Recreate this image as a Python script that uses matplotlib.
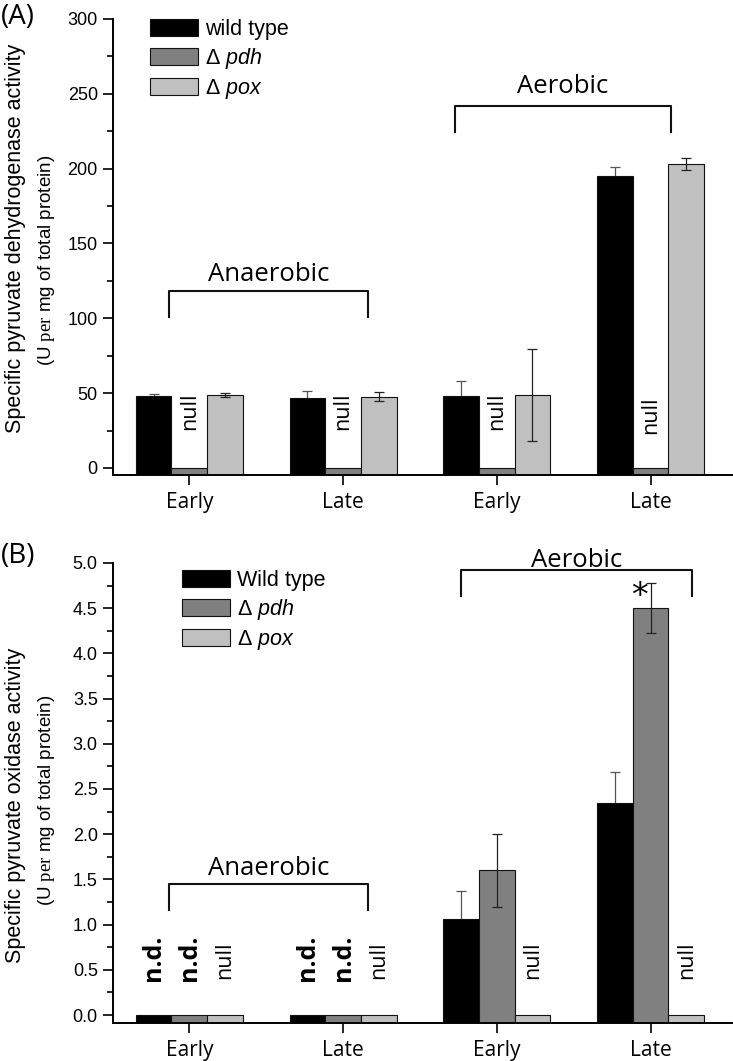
import numpy as np
import matplotlib.pyplot as plt
from matplotlib.ticker import MultipleLocator

plt.rcParams['font.family'] = ['Liberation Sans', 'DejaVu Sans']
plt.rcParams['mathtext.fontset'] = 'custom'
plt.rcParams['mathtext.rm'] = 'Liberation Serif'
plt.rcParams['mathtext.it'] = 'Liberation Sans:italic'

# data
groups = ['Early', 'Late', 'Early', 'Late']
series = ['wild type', 'Δ $\\mathit{pdh}$', 'Δ $\\mathit{pox}$']
series_b = ['Wild type', 'Δ $\\mathit{pdh}$', 'Δ $\\mathit{pox}$']
colors = ['#000000', '#808080', '#c0c0c0']

# (A) pyruvate dehydrogenase, U per mg protein
pdh_wt = [48.3, 46.6, 48.3, 195.1]
pdh_wt_err = [0.9, 5.0, 10.0, 6.0]
pdh_dpdh = [0, 0, 0, 0]
pdh_dpdh_err = [0, 0, 0, 0]
pdh_dpox = [48.8, 47.6, 48.8, 202.9]
pdh_dpox_err = [1.3, 3.1, 31.0, 4.0]

# (B) pyruvate oxidase, U per mg protein
pox_wt = [0, 0, 1.065, 2.35]
pox_wt_err = [0, 0, 0.31, 0.335]
pox_dpdh = [0, 0, 1.60, 4.50]
pox_dpdh_err = [0, 0, 0.40, 0.28]
pox_dpox = [0, 0, 0, 0]
pox_dpox_err = [0, 0, 0, 0]

# labels on bars: (series index, group index, text, y)
notes_a = [(1, 0, 'null', 38), (1, 1, 'null', 38), (1, 2, 'null', 38), (1, 3, 'null', 35)]
notes_b = [(0, 0, 'n.d.', 0.636), (1, 0, 'n.d.', 0.636), (2, 0, 'null', 0.61),
           (0, 1, 'n.d.', 0.636), (1, 1, 'n.d.', 0.636), (2, 1, 'null', 0.61),
           (2, 2, 'null', 0.61), (2, 3, 'null', 0.61)]

# brackets: text, x0, x1, line y, leg end y, text y
brackets_a = [('Anaerobic', -0.13, 1.16, 118.2, 100.7, 129),
              ('Aerobic', 1.73, 3.13, 242, 224.7, 254.7)]
brackets_b = [('Anaerobic', -0.13, 1.16, 1.446, 1.16, 1.62),
              ('Aerobic', 1.77, 3.27, 4.92, 4.63, 5.03)]

fig = plt.figure(figsize=(7.33, 10.61), dpi=100)
axA = fig.add_axes([0.1542, 0.5523, 0.8445, 0.4298])
axB = fig.add_axes([0.1542, 0.0355, 0.8445, 0.4339])

x = np.arange(len(groups))
w = 0.232
txt_font = ['Open Sans', 'DejaVu Sans']


def draw_panel(ax, vals, errs, ylim, major, minor, labels, notes, brackets,
               legend_anchor):
    ymin = ylim[0]
    handles = []
    for i, (v, e) in enumerate(zip(vals, errs)):
        v = np.array(v, dtype=float)
        e = np.array(e, dtype=float)
        xs = x + (i - 1) * w
        b = ax.bar(xs, v - ymin, bottom=ymin, width=w, color=colors[i],
                   edgecolor='#111111', linewidth=0.8, zorder=2)
        handles.append(b)
        m = e > 0
        # lower half of the whisker is hidden inside the black bars
        ax.errorbar(xs[m], v[m], yerr=e[m], fmt='none',
                    ecolor='#555555' if i == 0 else '#222222',
                    elinewidth=0.9, capsize=3.6, capthick=0.9,
                    zorder=1 if i == 0 else 3)
    for si, gi, t, ty in notes:
        bold = t == 'n.d.'
        ax.text(x[gi] + (si - 1) * w, ty, t, rotation=90, ha='center', va='center',
                fontsize=18 if bold else 15.5, fontweight='bold' if bold else 'normal',
                family=txt_font)
    for t, x0, x1, yl, yb, ty in brackets:
        ax.plot([x0, x0, x1, x1], [yb, yl, yl, yb], color='#111111', lw=1.5,
                clip_on=False, zorder=4)
        ax.text((x0 + x1) / 2, ty, t, ha='center', va='center', fontsize=18.5,
                family=txt_font, clip_on=False)
    ax.set_xlim(-0.496, 3.53)
    ax.set_ylim(*ylim)
    ax.set_xticks(x)
    ax.set_xticklabels(groups, family=txt_font, fontsize=15)
    ax.yaxis.set_major_locator(MultipleLocator(major))
    ax.yaxis.set_minor_locator(MultipleLocator(minor))
    for s in ['top', 'right']:
        ax.spines[s].set_visible(False)
    for s in ['left', 'bottom']:
        ax.spines[s].set_linewidth(1.4)
    ax.tick_params(axis='y', which='major', length=7, width=1.2, labelsize=13, pad=4)
    ax.tick_params(axis='y', which='minor', length=4, width=1.2)
    ax.tick_params(axis='x', which='major', length=7, width=1.2, pad=5)
    ax.legend(handles, labels, loc='upper left', bbox_to_anchor=legend_anchor,
              frameon=False, fontsize=15.5, handlelength=2.2, handleheight=0.85,
              handletextpad=0.33, labelspacing=0.28, borderpad=0, borderaxespad=0)


draw_panel(axA, [pdh_wt, pdh_dpdh, pdh_dpox], [pdh_wt_err, pdh_dpdh_err, pdh_dpox_err],
           (-4.7, 300), 50, 25, series, notes_a, brackets_a, (0.06, 1.0))
draw_panel(axB, [pox_wt, pox_dpdh, pox_dpox], [pox_wt_err, pox_dpdh_err, pox_dpox_err],
           (-0.092, 5.0), 0.5, 0.25, series_b, notes_b, brackets_b, (0.112, 0.985))
axB.yaxis.set_major_formatter(plt.FormatStrFormatter('%.1f'))

# significance mark
axB.text(x[3] - 0.07, 4.63, '*', ha='center', va='center',
         fontsize=24, family='DejaVu Sans')

# y axis titles
fig.text(16 / 733, 1 - 238 / 1061, 'Specific pyruvate dehydrogenase activity',
         rotation=90, ha='center', va='center', fontsize=15.5)
fig.text(47 / 733, 1 - 260 / 1061, '(U $\\mathrm{per}$ mg of total protein)',
         rotation=90, ha='center', va='center', fontsize=13.5)
fig.text(16 / 733, 1 - 805 / 1061, 'Specific pyruvate oxidase activity',
         rotation=90, ha='center', va='center', fontsize=15.5)
fig.text(47 / 733, 1 - 800 / 1061, '(U $\\mathrm{per}$ mg of total protein)',
         rotation=90, ha='center', va='center', fontsize=13.5)

# panel letters
fig.text(18 / 733, 1 - 17 / 1061, '(A)', ha='center', va='center', fontsize=20,
         family=txt_font)
fig.text(18 / 733, 1 - 556 / 1061, '(B)', ha='center', va='center', fontsize=20,
         family=txt_font)

fig.savefig('out.png', dpi=100)
